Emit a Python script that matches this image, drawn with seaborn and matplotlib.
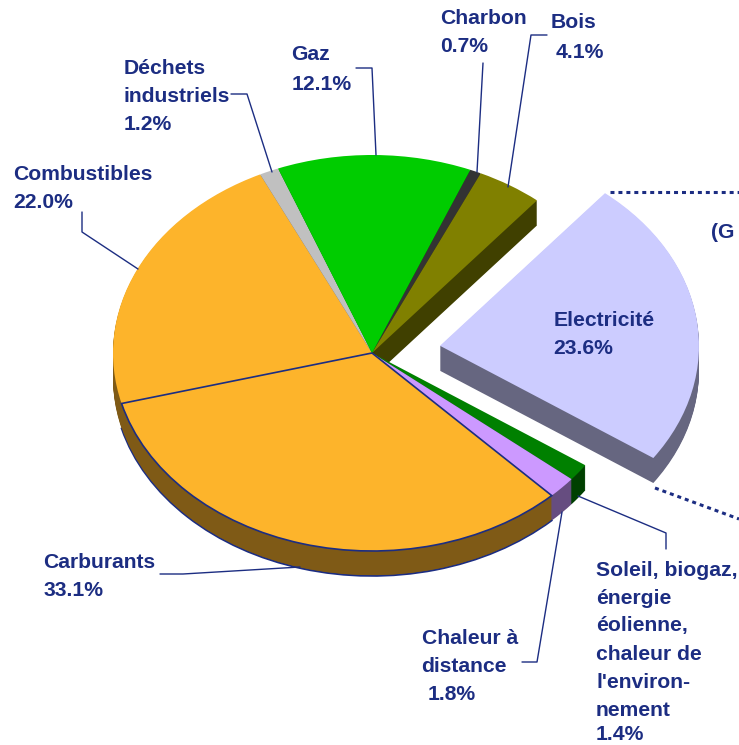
import matplotlib
matplotlib.use("Agg")
import matplotlib.pyplot as plt
import seaborn as sns

# Données (dans le sens horaire depuis Charbon)
noms = ['Charbon', 'Bois', 'Electricité', 'Soleil, biogaz', 'Chaleur à distance',
        'Carburants', 'Combustibles', 'Déchets industriels', 'Gaz']
parts = [0.7, 4.1, 23.6, 1.4, 1.8, 33.1, 22.0, 1.2, 12.1]
decalage = [0, 0, 0.265, 0, 0, 0, 0, 0, 0]
couleurs = ['#333333', '#808000', '#CCCCFF', '#008000', '#CC99FF',
            '#FDB42B', '#FDB42B', '#C0C0C0', '#00CC00']
cotes = ['#1F1F1F', '#404000', '#666680', '#004000', '#664D80',
         '#7F5A16', '#7F5A16', '#606060', '#006600']
bleu = '#1C2D82'

# Textes : (x, y, texte) en pixels de l'image
textes = [
    (440, 19, 'Charbon'), (440, 47, '0.7%'),
    (551, 23, 'Bois'), (556, 52, '4.1%'),
    (291.5, 55, 'Gaz'), (292, 84, '12.1%'),
    (123.5, 68, 'Déchets'), (123.5, 96, 'industriels'), (124, 124, '1.2%'),
    (13, 174, 'Combustibles'), (13, 202, '22.0%'),
    (553.5, 321, 'Electricité'), (553.5, 349, '23.6%'),
    (43.5, 563, 'Carburants'), (44, 591, '33.1%'),
    (422, 638, 'Chaleur à'), (421.5, 666, 'distance'), (428, 694, '1.8%'),
    (596, 570, 'Soleil, biogaz,'), (596, 598, 'énergie'), (596, 626, 'éolienne,'),
    (596, 654, 'chaleur de'), (596, 682, "l'environ-"), (596, 710, 'nement'), (596, 735, '1.4%'),
    (711, 232, '(G'),
]

# Traits de rappel
rappels = [
    [(356, 68), (372, 68), (376, 155)],
    [(483, 63), (477, 172)],
    [(547, 35), (531, 35), (508, 187)],
    [(231, 94), (247, 94), (272, 172)],
    [(82, 212), (82, 232), (138, 269)],
    [(160, 574), (183, 574), (300, 567)],
    [(522, 662), (537, 662), (562, 512)],
    [(666, 549), (666, 533), (578, 496)],
]
pointilles = [[(610, 192), (739, 192)], [(655, 488), (739, 519)]]

sns.set_theme(style='white')
plt.rcParams['font.family'] = ['Liberation Sans', 'DejaVu Sans']
palette = sns.color_palette(couleurs)
palette_cote = sns.color_palette(cotes)

fig = plt.figure(figsize=(7.39, 7.45), dpi=100)
ax = fig.add_axes([0, 0, 1, 1])

# Relief : on empile le camembert, du bas vers le haut
rx, ry = 259, 198
profondeur = 25
for d in range(profondeur, 0, -1):
    w, _ = ax.pie(parts, explode=decalage, colors=palette_cote, startangle=67.7, counterclock=False,
                  center=(0, -d / ry), wedgeprops={'linewidth': 0.5, 'edgecolor': 'none'})
    if d == profondeur:
        w[5].set_edgecolor(bleu)
        w[5].set_linewidth(1.2)

w, _ = ax.pie(parts, explode=decalage, colors=palette, startangle=67.7, counterclock=False,
              wedgeprops={'linewidth': 0})
w[5].set_edgecolor(bleu)
w[5].set_linewidth(1.2)
w[5].set_zorder(w[6].get_zorder() + 1)

# Ellipse : échelle différente en x et y, centre du disque à (372, 353)
ax.set_aspect('auto')
ax.set_xlim(-372 / rx, (739 - 372) / rx)
ax.set_ylim((353 - 745) / ry, 353 / ry)

# Calque en pixels pour les textes
ax2 = fig.add_axes([0, 0, 1, 1])
ax2.set_xlim(0, 739)
ax2.set_ylim(745, 0)
ax2.axis('off')
for x, y, t in textes:
    ax2.text(x, y, t, color=bleu, fontsize=15.2, fontweight='bold', ha='left', va='center')
for r in rappels:
    ax2.plot([p[0] for p in r], [p[1] for p in r], color=bleu, lw=1.0)
for r in pointilles:
    ax2.plot([p[0] for p in r], [p[1] for p in r], color=bleu, lw=2.2, linestyle=(0, (1.3, 1.3)))

fig.savefig('out.png', dpi=100)
